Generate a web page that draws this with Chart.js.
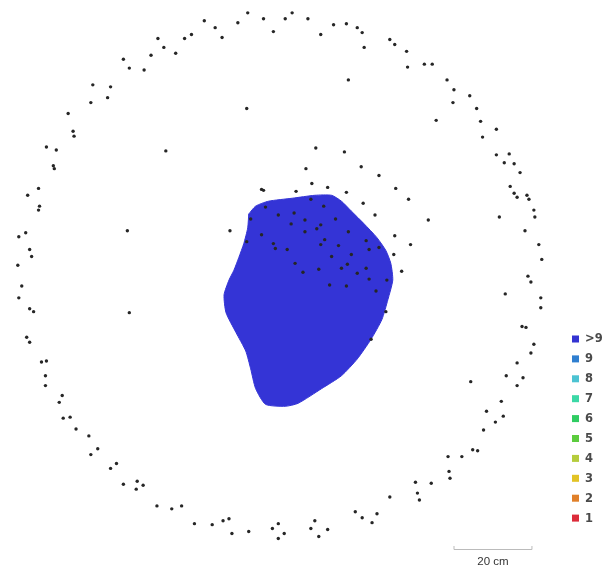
<!DOCTYPE html>
<html>
<head>
<meta charset="UTF-8">
<title>Camera overlap</title>
<script src="https://cdn.jsdelivr.net/npm/chart.js"></script>
<style>
  html, body { margin: 0; padding: 0; background: #fff; }
  #chart { display: block; }
</style>
</head>
<body>
<canvas id="chart" width="603" height="573"></canvas>
<script>
// camera positions (plot units, y downwards)
const cameraX = [247,292,263,285,203,214,237,273,221,190,183,156,162,149,174,121,127,142,90,108,105,88,65,246,70,71,43,53,164,50,51,35,24,261,263,296,36,35,125,229,15,22,26,28,14,18,
  308,321,334,347,358,363,365,391,396,408,409,426,434,349,449,456,455,472,479,483,438,499,485,316,345,499,512,507,517,523,306,362,380,312,328,347,397,410,513,517,520,530,532,537,538,502,430,364,376,528,396,412,395,542,545,403,531,534,
  265,250,278,294,311,324,291,305,305,321,317,336,349,261,246,273,275,287,325,321,339,367,370,380,352,332,295,303,319,342,348,358,367,370,388,330,347,377,387,372,
  15,26,30,127,23,26,38,43,42,42,59,56,60,67,73,86,95,88,108,114,121,135,141,134,155,170,180,193,211,222,228,231,248,272,278,284,278,
  508,544,544,525,529,537,534,520,509,526,520,473,504,489,506,498,486,475,480,450,464,451,452,417,433,419,421,391,356,363,378,373,315,311,328,319];
const cameraY = [9,9,15,15,17,24,19,28,34,31,35,35,44,52,50,56,65,67,82,84,95,100,111,106,129,134,145,148,149,164,167,187,194,188,189,190,205,209,230,230,236,232,249,256,265,286,
  15,31,21,20,24,29,44,36,41,48,64,61,61,77,77,87,100,93,106,119,118,127,135,146,150,153,152,161,162,171,167,165,174,182,186,191,187,198,185,192,196,194,198,209,216,216,219,202,214,230,235,244,254,244,259,271,276,282,
  206,218,214,212,198,205,223,219,231,224,228,218,231,234,241,243,248,249,239,244,245,240,249,247,254,256,263,272,269,268,264,273,268,279,280,285,286,291,312,340,
  298,309,312,313,338,343,363,362,377,387,397,404,420,419,431,438,451,457,471,466,487,484,488,492,509,512,509,527,528,524,522,537,535,532,527,537,542,
  294,298,308,327,328,345,354,364,377,379,387,383,403,413,418,424,432,452,453,459,459,474,481,485,486,496,503,500,515,521,517,526,524,532,533,540];

// outline of the area seen by more than 9 images
const areaX = [248,255,268,292,315,332,342,352,365,378,387,392,394,389,383,372,358,342,322,298,285,265,255,250,245,235,225,223,228,233,238,243,247,248];
const areaY = [213,205,200,197,194,194,200,210,223,237,250,263,280,300,320,340,360,377,390,405,408,406,390,370,352,333,313,295,280,270,257,243,227,213];

// legend: number of overlapping images
const overlapLabels = ['>9','9','8','7','6','5','4','3','2','1'];
const overlapColors = ['#3434d2','#2f7fd0','#4cc3d2','#3cd8a6','#2fcc62','#5ccc3e','#b5cc3c','#e2c326','#e0802a','#dc2c3a'];

const scaleBarCm = 20;
const unitsPerCm = 3.95; // plot units per cm

const points = cameraX.map((x, i) => ({ x: x, y: cameraY[i] }));
const outline = areaX.map((x, i) => ({ x: x, y: areaY[i] }));

const overlayPlugin = {
  id: 'overlay',
  afterDraw(chart) {
    const ctx = chart.ctx;
    const xs = chart.scales.x;
    ctx.save();
    // legend
    ctx.font = 'bold 11.5px "DejaVu Sans", sans-serif';
    ctx.textBaseline = 'middle';
    overlapLabels.forEach((lab, i) => {
      const y = 339 + i * 19.9;
      ctx.fillStyle = overlapColors[i];
      ctx.fillRect(572, y - 3.5, 7, 7);
      ctx.fillStyle = '#4a4a4a';
      ctx.fillText(lab, 585, y + 0.5);
    });
    // scale bar
    const x0 = 454;
    const x1 = xs.getPixelForValue(xs.getValueForPixel(x0) + scaleBarCm * unitsPerCm);
    ctx.strokeStyle = '#bbb';
    ctx.lineWidth = 1;
    ctx.beginPath();
    ctx.moveTo(x0, 546); ctx.lineTo(x0, 549.5);
    ctx.lineTo(x1, 549.5); ctx.lineTo(x1, 546);
    ctx.stroke();
    ctx.fillStyle = '#333';
    ctx.font = '11.5px "Liberation Sans", Arial, sans-serif';
    ctx.textAlign = 'center';
    ctx.fillText(scaleBarCm + ' cm', (x0 + x1) / 2, 562);
    ctx.restore();
  }
};

new Chart(document.getElementById('chart'), {
  type: 'scatter',
  data: {
    datasets: [{
      label: 'cameras',
      data: points,
      order: 0,
      pointRadius: 1.7,
      pointBorderWidth: 0,
      pointBackgroundColor: '#262626'
    }, {
      label: 'overlap',
      data: outline,
      order: 1,
      showLine: true,
      tension: 0.2,
      fill: 'shape',
      pointRadius: 0,
      borderWidth: 1,
      borderColor: '#3434d6',
      backgroundColor: '#3434d6'
    }]
  },
  options: {
    responsive: false,
    animation: false,
    layout: { padding: 0 },
    plugins: { legend: { display: false }, tooltip: { enabled: false } },
    scales: {
      x: { type: 'linear', min: 0, max: 603, display: false },
      y: { type: 'linear', min: 0, max: 573, reverse: true, display: false }
    }
  },
  plugins: [overlayPlugin]
});
</script>
</body>
</html>
